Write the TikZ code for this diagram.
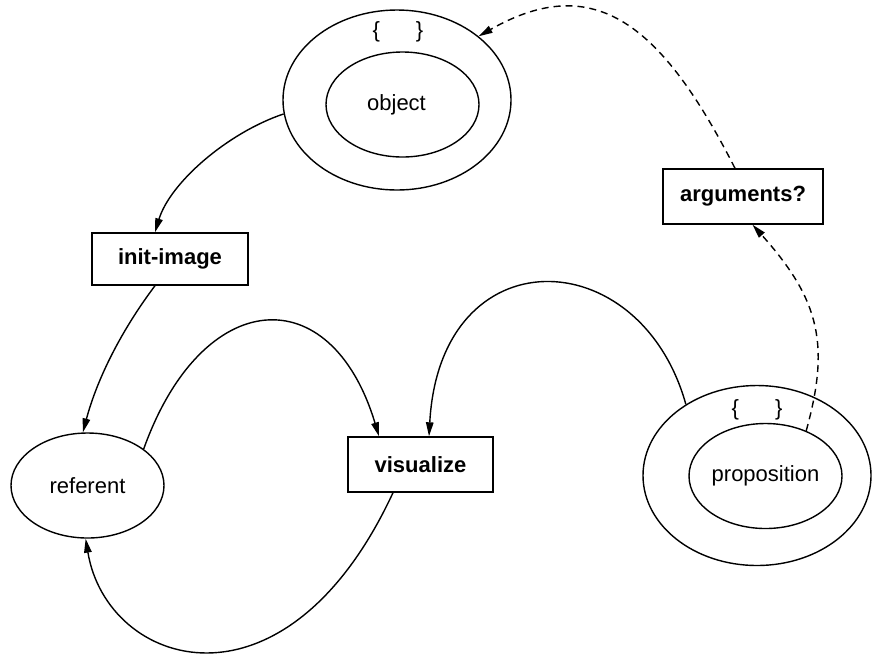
\documentclass[tikz,border=0pt]{standalone}
\usepackage{fontspec}
\setmainfont{Liberation Sans}
\usetikzlibrary{shapes.geometric,arrows.meta}

\tikzset{
  base/.style={line width=1.4pt, inner sep=0pt, font=\fontsize{22}{26}\selectfont},
  oval/.style={base, draw, ellipse},
  inneroval/.style={oval, minimum width=153pt, minimum height=105pt},
  outeroval/.style={oval, minimum width=228pt, minimum height=180pt},
  opbox/.style={base, draw, rectangle, font=\fontsize{22}{26}\selectfont\bfseries},
  braces/.style={base},
  link/.style={line width=1.4pt, -{Triangle[length=14pt,width=7.5pt]}},
  maybe/.style={link, dash pattern=on 7pt off 5pt}
}

\begin{document}
\begin{tikzpicture}[x=1pt,y=-1pt]
  \useasboundingbox (0,0) rectangle (874,657);

  % set-valued nodes: outer ring with braces, inner element
  \node[outeroval] (objo) at (397,100) {};
  \node[inneroval] (obji) at (402.5,104.5) {object\kern12pt\null};
  \node[braces] (objbr) at (398,32) {\{\hspace{36pt}\}};

  \node[outeroval] (propo) at (757,475.5) {};
  \node[inneroval] (propi) at (765.5,476) {proposition};
  \node[braces] (propbr) at (757,410) {\{\hspace{36pt}\}};

  \node[inneroval] (ref) at (87.5,485.5) {referent};

  % operations
  \node[opbox, minimum width=156pt, minimum height=52pt] (init) at (170,259) {init-image};
  \node[opbox, minimum width=145pt, minimum height=55pt] (vis) at (420.5,464.5) {visualize};
  \node[opbox, minimum width=160pt, minimum height=55pt] (args) at (743,196.5) {arguments?};

  % solid flows
  \draw[link] (objo.187.8) .. controls (227,133) and (170,183) .. ([xshift=-15pt]init.north);
  \draw[link] ([xshift=-15pt]init.south) .. controls (118,335) and (96,383) .. (ref.95);
  \draw[link] (ref.33.8) .. controls (202,286) and (331,277) .. ([xshift=-41.5pt]vis.north);
  \draw[link] ([xshift=-27.5pt]vis.south) .. controls (285,725) and (107,668) .. (ref.268);
  \draw[link] (propo.135.2) .. controls (640,240) and (440,235) .. ([xshift=8.5pt]vis.north);

  % optional flows
  \draw[maybe] (propi.48) .. controls (830,345) and (820,300) .. ([xshift=9.5pt]args.south);
  \draw[maybe] ([xshift=-8pt]args.north) .. controls (662,25) and (595,-30) .. (objo.38.6);
\end{tikzpicture}
\end{document}
